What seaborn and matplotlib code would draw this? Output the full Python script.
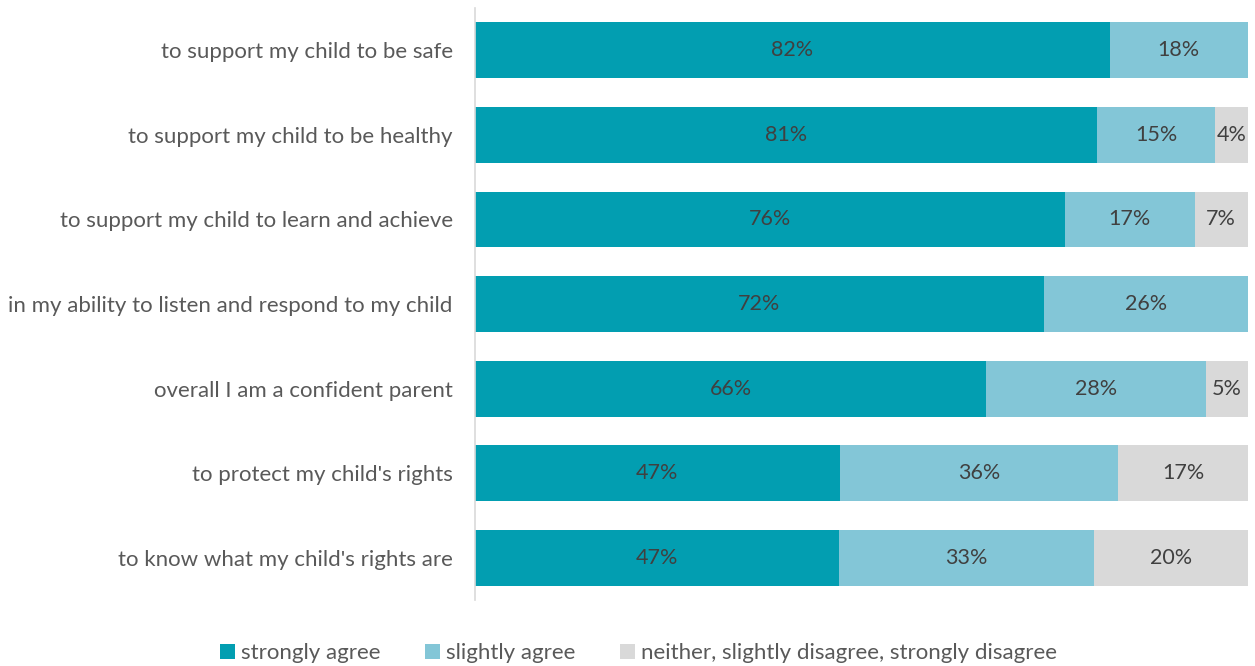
# Stacked horizontal bars: parent confidence statements

import matplotlib
matplotlib.use("Agg")
import matplotlib.pyplot as plt
import seaborn as sns
import pandas as pd
from matplotlib.patches import Patch

statements = [
    "to support my child to be safe",
    "to support my child to be healthy",
    "to support my child to learn and achieve",
    "in my ability to listen and respond to my child",
    "overall I am a confident parent",
    "to protect my child's rights",
    "to know what my child's rights are",
]

# shares as drawn
strongly = [82.1, 80.5, 76.3, 73.6, 66.1, 47.2, 47.1]
slightly = [17.9, 15.2, 16.8, 26.4, 28.5, 36.0, 33.0]
neither = [0.0, 4.3, 6.9, 0.0, 5.4, 16.8, 19.9]

# labels printed on the bars
strongly_lbl = ["82%", "81%", "76%", "72%", "66%", "47%", "47%"]
slightly_lbl = ["18%", "15%", "17%", "26%", "28%", "36%", "33%"]
neither_lbl = ["", "4%", "7%", "", "5%", "17%", "20%"]

series = ["strongly agree", "slightly agree", "neither, slightly disagree, strongly disagree"]
colors = ["#029EB1", "#83C6D7", "#D9D9D9"]

df = pd.DataFrame({"statement": statements, "s1": strongly, "s2": slightly, "s3": neither})
df["c1"] = df["s1"]
df["c2"] = df["s1"] + df["s2"]
df["c3"] = df["c2"] + df["s3"]

sns.set_style("white")
plt.rcParams["font.family"] = ["Lato", "DejaVu Sans"]

fig = plt.figure(figsize=(12.55, 6.66), dpi=100)
ax = fig.add_axes([0.3785, 0.099, 0.6159, 0.889])

# draw cumulative totals back to front so they look stacked
for col, c in zip(["c3", "c2", "c1"], colors[::-1]):
    sns.barplot(data=df, x=col, y="statement", color=c, width=0.66,
                linewidth=0, saturation=1, ax=ax, orient="h")

txt = "#404040"
for i in range(len(statements)):
    lefts = [0, df["c1"][i], df["c2"][i]]
    widths = [df["s1"][i], df["s2"][i], df["s3"][i]]
    labels = [strongly_lbl[i], slightly_lbl[i], neither_lbl[i]]
    for l, w, lab in zip(lefts, widths, labels):
        if lab:
            ax.text(l + w / 2, i, lab, ha="center", va="center",
                    fontsize=15.5, color=txt)

ax.set_xlim(0, 100)
ax.set_ylim(6.5, -0.5)
ax.set_xlabel("")
ax.set_ylabel("")
ax.set_xticks([])
ax.tick_params(axis="y", length=0, pad=16, labelsize=16, labelcolor="#595959")
for s in ["top", "right", "bottom"]:
    ax.spines[s].set_visible(False)
ax.spines["left"].set_color("#D9D9D9")
ax.spines["left"].set_linewidth(1.2)

handles = [Patch(facecolor=c, edgecolor="none") for c in colors]
fig.legend(handles, series, loc="center", bbox_to_anchor=(0.509, 0.019), ncol=3,
           frameon=False, fontsize=16, handlelength=0.65, handleheight=0.65,
           handletextpad=0.3, columnspacing=2.0, labelcolor="#595959")

fig.savefig("out.png", dpi=100)
